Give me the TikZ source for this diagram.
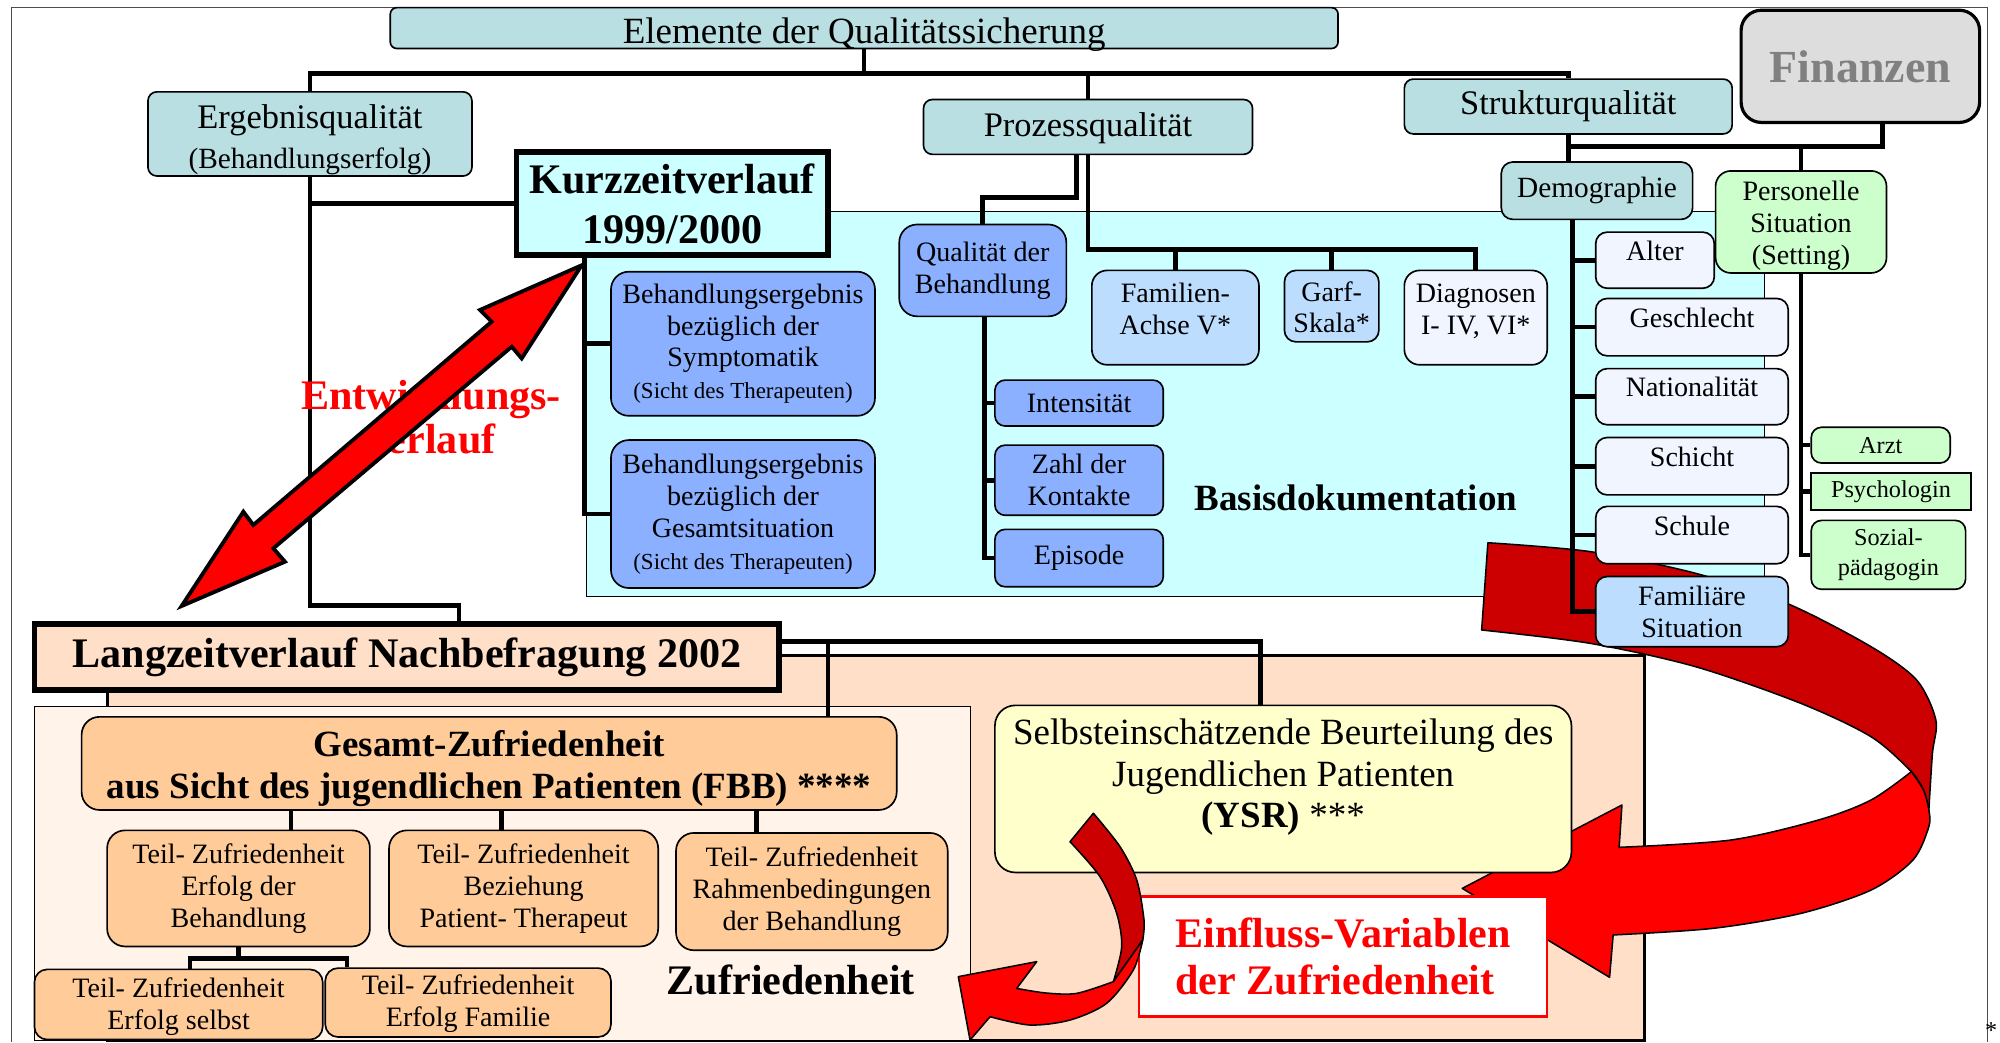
\documentclass[tikz,border=0pt]{standalone}
\usepackage{fontspec}
\setmainfont{Liberation Serif}
\usetikzlibrary{calc}
\definecolor{qteal}{RGB}{185,223,226}
\definecolor{qcyan}{RGB}{204,255,255}
\definecolor{qblue}{RGB}{138,176,255}
\definecolor{qlblue}{RGB}{189,221,255}
\definecolor{qpale}{RGB}{240,245,255}
\definecolor{qgreen}{RGB}{204,255,204}
\definecolor{qgray}{RGB}{221,221,221}
\definecolor{qpeach}{RGB}{255,223,200}
\definecolor{qlpeach}{RGB}{255,243,234}
\definecolor{qorange}{RGB}{255,204,153}
\definecolor{qyellow}{RGB}{255,255,204}
\definecolor{qred}{RGB}{255,0,0}
\definecolor{qdred}{RGB}{204,0,0}
\newcommand{\fsz}[2]{\fontsize{#1}{#2}\selectfont}

\begin{document}
\begin{tikzpicture}[x=1pt, y=-1pt]
            \tikzset{box/.style = {draw, line width=1.3pt, rounded corners=7pt, align=center, inner sep=0pt}}
            \tikzset{bluebox/.style = {box, fill=qblue, rounded corners=14pt, font=\fsz{22}{25}}}
            \tikzset{palebox/.style = {box, fill=qpale, rounded corners=9pt, font=\fsz{22}{25}}}
            \tikzset{greenbox/.style = {box, fill=qgreen, rounded corners=8pt, font=\fsz{19}{23}}}
            \tikzset{obox/.style = {box, fill=qorange, rounded corners=14pt, font=\fsz{22}{25}}}
            \tikzset{tb/.style = {text height=#1, text depth=0pt}}
            \tikzset{conn/.style = {line width=3.6pt}}
            \tikzset{ribbon/.style = {draw=black, line width=1.2pt, line join=round}}

            \useasboundingbox (0,0) rectangle (1568,817);

            % frame and background areas
            \draw[gray!60!black, line width=0.8pt] (9,817) -- (9,6) -- (1558,6) -- (1558,817);
            \draw[fill=qcyan, line width=0.8pt] (460,166) rectangle (1383,468);
            \draw[fill=qpeach, line width=2.5pt] (84,514) rectangle (1289,816);
            \draw[fill=qlpeach, line width=1pt] (27,554) rectangle (761,816);

            % big curved arrow
            \filldraw[ribbon, fill=qdred] plot[smooth] coordinates {(1166.5,425.5) (1246.8,432.5) (1329.4,449.5) (1400.9,473) (1466.9,507) (1502.6,533.1) (1517.7,564.5) (1515,590.6) (1512.2,635)}
                -- plot[smooth] coordinates {(1508,619.4) (1498.5,605) (1466.9,577.6) (1411.8,551.4) (1329.4,522.7) (1246.8,504.4) (1161.6,493.9)} -- cycle;
            \filldraw[ribbon, fill=qred] plot[smooth] coordinates {(1498.5,605) (1508,619.4) (1512.2,635) (1512.2,648.1) (1499.8,674.2) (1466.9,697.8) (1411.8,716.1) (1343.1,727.8) (1264.7,733)}
                -- (1261.9,766.2) -- (1146.4,696.5) -- (1271.6,631.1)
                -- plot[smooth] coordinates {(1269.4,664.3) (1356.8,658.6) (1425.6,642.9) (1466.9,627.2) (1498.5,605)} -- cycle;

            % Qualitaetssicherung
            \node[box, fill=qteal, rounded corners=5pt, minimum width=743pt, minimum height=32pt, font=\fsz{29}{33}, tb=24pt] (elem) at (677.5,22) {Elemente der Qualitätssicherung};
            \node[box, fill=qgray, line width=2.5pt, rounded corners=16pt, minimum width=187pt, minimum height=88pt, font=\bfseries\fsz{36}{40}, text=gray] (fin) at (1458.5,52) {Finanzen};
            \node[box, fill=qteal, minimum width=254pt, minimum height=66pt, font=\fsz{27}{31}, tb=54pt] (erg) at (243,105) {Ergebnisqualität\\{\fsz{23}{31}(Behandlungserfolg)}};
            \node[box, fill=qteal, minimum width=258pt, minimum height=43pt, font=\fsz{27}{31}, tb=15pt] (proz) at (853,99.5) {Prozessqualität};
            \node[box, fill=qteal, minimum width=257pt, minimum height=43pt, font=\fsz{27}{31}] (struk) at (1229.5,83.5) {Strukturqualität};

            % Kurzzeitverlauf
            \node[draw, line width=4.5pt, fill=qcyan, align=center, inner sep=0pt, minimum width=244pt, minimum height=81pt, font=\bfseries\fsz{33}{39}, tb=63pt] (kurz) at (527,159.5) {Kurzzeitverlauf\\1999/2000};
            \node[bluebox, minimum width=207pt, minimum height=113pt] (beh1) at (582.5,269.5) {Behandlungsergebnis\\bezüglich der\\Symptomatik\\{\fsz{18}{24}(Sicht des Therapeuten)}};
            \node[bluebox, minimum width=207pt, minimum height=116pt] (beh2) at (582.5,403) {Behandlungsergebnis\\bezüglich der\\Gesamtsituation\\{\fsz{18}{24}(Sicht des Therapeuten)}};

            % Prozessqualitaet
            \node[bluebox, minimum width=131pt, minimum height=72pt] (qual) at (770.5,212) {Qualität der\\Behandlung};
            \node[bluebox, rounded corners=8pt, minimum width=132pt, minimum height=36pt] (int) at (846,316) {Intensität};
            \node[bluebox, rounded corners=8pt, minimum width=132pt, minimum height=55pt] (zahl) at (846,376.5) {Zahl der\\Kontakte};
            \node[bluebox, rounded corners=8pt, minimum width=132pt, minimum height=45pt] (epi) at (846,437.5) {Episode};
            \node[palebox, fill=qlblue, rounded corners=12pt, minimum width=131pt, minimum height=74pt, tb=26pt] (fam) at (921.5,249) {Familien-\\Achse V*};
            \node[palebox, fill=qlblue, minimum width=74pt, minimum height=56pt, tb=42pt] (garf) at (1044,240) {Garf-\\Skala*};
            \node[palebox, rounded corners=12pt, minimum width=112pt, minimum height=74pt, tb=26pt] (diag) at (1157,249) {Diagnosen\\I- IV, VI*};

            % Strukturqualitaet
            \node[box, fill=qteal, rounded corners=9pt, minimum width=150pt, minimum height=45pt, font=\fsz{23}{26}] (demo) at (1252,149.5) {Demographie};
            \node[box, fill=qgreen, rounded corners=12pt, minimum width=134pt, minimum height=80pt, font=\fsz{22}{25}, tb=66pt] (pers) at (1412,174) {Personelle\\Situation\\(Setting)};
            \node[palebox, minimum width=93pt, minimum height=44pt, tb=0pt] (alter) at (1297.5,204) {Alter};
            \node[palebox, minimum width=151pt, minimum height=45pt, tb=1pt] (geschl) at (1326.5,256.5) {Geschlecht};
            \node[palebox, minimum width=151pt, minimum height=44pt, tb=0pt] (nat) at (1326.5,311) {Nationalität};
            \node[palebox, minimum width=151pt, minimum height=45pt, tb=0pt] (schicht) at (1326.5,365.5) {Schicht};
            \node[palebox, minimum width=151pt, minimum height=45pt, tb=0pt] (schule) at (1326.5,419.5) {Schule};
            \node[palebox, fill=qlblue, minimum width=151pt, minimum height=55pt, tb=41pt] (famsit) at (1326.5,479.5) {Familiäre\\Situation};
            \node[greenbox, minimum width=109pt, minimum height=28pt] (arzt) at (1474.5,349) {Arzt};
            \node[greenbox, rounded corners=0pt, minimum width=125pt, minimum height=29pt] (psych) at (1482.5,385.5) {Psychologin};
            \node[greenbox, minimum width=121pt, minimum height=54pt] (sozial) at (1480.5,435) {Sozial-\\pädagogin};

            % Langzeitverlauf
            \node[draw, line width=4.5pt, fill=qpeach, inner sep=0pt, minimum width=584pt, minimum height=52pt, font=\bfseries\fsz{33}{39}] (lang) at (319,515) {Langzeitverlauf Nachbefragung 2002};
            \node[obox, minimum width=639pt, minimum height=73pt, font=\bfseries\fsz{29}{33}, tb=55pt] (ges) at (383.5,598.5) {Gesamt-Zufriedenheit\\aus Sicht des jugendlichen Patienten (FBB) ****};
            \node[obox, minimum width=206pt, minimum height=91pt] (t1) at (187,696.5) {Teil- Zufriedenheit\\Erfolg der\\Behandlung};
            \node[obox, minimum width=211pt, minimum height=91pt] (t2) at (410.5,696.5) {Teil- Zufriedenheit\\Beziehung\\Patient- Therapeut};
            \node[obox, minimum width=213pt, minimum height=92pt] (t3) at (636.5,699) {Teil- Zufriedenheit\\Rahmenbedingungen\\der Behandlung};
            \node[obox, rounded corners=10pt, minimum width=226pt, minimum height=55pt, tb=39pt] (t4) at (140,787.5) {Teil- Zufriedenheit\\Erfolg selbst};
            \node[obox, rounded corners=10pt, minimum width=224pt, minimum height=54pt, tb=38pt] (t5) at (367,786) {Teil- Zufriedenheit\\Erfolg Familie};
            \node[box, fill=qyellow, rounded corners=16pt, minimum width=452pt, minimum height=131pt, font=\fsz{29}{32.5}, tb=61pt] (selbst) at (1006,618.5) {Selbsteinschätzende Beurteilung des\\Jugendlichen Patienten\\\textbf{(YSR)} ***};
            \node[draw=qred, line width=2pt, fill=white, text=qred, align=left, inner sep=0pt, minimum width=320pt, minimum height=94pt, font=\bfseries\fsz{33}{37}] (einfl) at (1053,750) {Einfluss-Variablen\\der Zufriedenheit};

            % connectors
            \draw[conn] (elem.south) -- ++(0,19) -| (erg.north);
            \draw[conn] (elem.south) -- ++(0,19) -| (proz.north);
            \draw[conn] (elem.south) -- ++(0,19) -| (struk.north);
            \draw[conn] (erg.south) |- (kurz.west);
            \draw[conn] (erg.south) -- ++(0,336) -| ([xshift=41pt]lang.north);
            \draw[conn] ([xshift=55pt]kurz.south west) |- (beh1.west);
            \draw[conn] ([xshift=55pt]kurz.south west) |- (beh2.west);

            \draw[conn] ([xshift=-9pt]proz.south) -- ++(0,33) -| (qual.north);
            \draw[conn] (proz.south) -- ++(0,74) -| (fam.north);
            \draw[conn] (proz.south) -- ++(0,74) -| (garf.north);
            \draw[conn] (proz.south) -- ++(0,74) -| (diag.north);
            \draw[conn] ([xshift=1.5pt]qual.south) |- (int.west);
            \draw[conn] ([xshift=1.5pt]qual.south) |- (zahl.west);
            \draw[conn] ([xshift=1.5pt]qual.south) |- (epi.west);

            \coordinate (sj) at (1229.5,115);
            \draw[conn] (struk.south) -- (struk.south |- demo.north);
            \draw[conn] ([xshift=17.5pt]fin.south) |- (sj);
            \draw[conn] (pers.north) -- (pers.north |- sj);
            \draw[conn] ([xshift=-19pt]demo.south) |- (alter.west);
            \draw[conn] ([xshift=-19pt]demo.south) |- (geschl.west);
            \draw[conn] ([xshift=-19pt]demo.south) |- (nat.west);
            \draw[conn] ([xshift=-19pt]demo.south) |- (schicht.west);
            \draw[conn] ([xshift=-19pt]demo.south) |- (schule.west);
            \draw[conn] ([xshift=-19pt]demo.south) |- (famsit.west);
            \draw[conn] (pers.south) |- (arzt.west);
            \draw[conn] (pers.south) |- (psych.west);
            \draw[conn] (pers.south) |- (sozial.west);

            \draw[conn] ([yshift=12pt]lang.east) -| ([xshift=-18pt]selbst.north);
            \draw[conn] ([yshift=12pt]lang.east) -| ([xshift=265.5pt]ges.north);
            \draw[conn] ([xshift=41pt]t1.north) -- ++(0,-16);
            \draw[conn] ([xshift=-17.5pt]t2.north) -- ++(0,-16);
            \draw[conn] ([xshift=-43.5pt]t3.north) -- ++(0,-18);
            \draw[conn] (t1.south) -- ++(0,9) -| ([xshift=9pt]t4.north);
            \draw[conn] (t1.south) -- ++(0,9) -| ([xshift=-95pt]t5.north);

            % small curved arrow
            \filldraw[ribbon, fill=qdred] plot[smooth] coordinates {(857.2,637.6) (878.1,663.8) (891.2,689.9) (896.9,721.3) (895.9,737)}
                -- plot[smooth] coordinates {(872.9,769.6) (879.4,742.2) (875.5,716.1) (862.4,687.3) (838.9,659.9)} -- cycle;
            \filldraw[ribbon, fill=qred] (872.9,769.6) -- plot[smooth] coordinates {(895.9,737) (888.5,760.5) (867.6,786.6) (838.9,799.7) (807.5,803.6) (776.2,797.1)}
                -- (760.5,815.4) -- (751.3,765.7) -- (812.8,753.9)
                -- plot[smooth] coordinates {(797.1,774.9) (820,778.5) (844.1,778.8) (872.9,769.6)} -- cycle;

            % Entwicklungsverlauf
            \node[text=qred, align=center, font=\bfseries\fsz{33}{35}] (entw) at (338,327) {Entwicklungs-\\verlauf};
            \filldraw[fill=qred, draw=black, line width=3pt] (456,208) -- (376.3,243) -- (385.5,252.2) -- (198.6,411.6) -- (190.8,401.2) -- (142.4,475.1)
                -- (223.4,440.4) -- (214.3,429.9) -- (401.2,271.8) -- (409,281) -- cycle;

            \node[font=\bfseries\fsz{29}{33}] (basis) at (1063,390) {Basisdokumentation};
            \node[font=\bfseries\fsz{33}{37}] (zuf) at (620,768) {Zufriedenheit};
            \node[font=\fsz{19}{20}] (star) at (1561,808) {*};

        \end{tikzpicture}
\end{document}
